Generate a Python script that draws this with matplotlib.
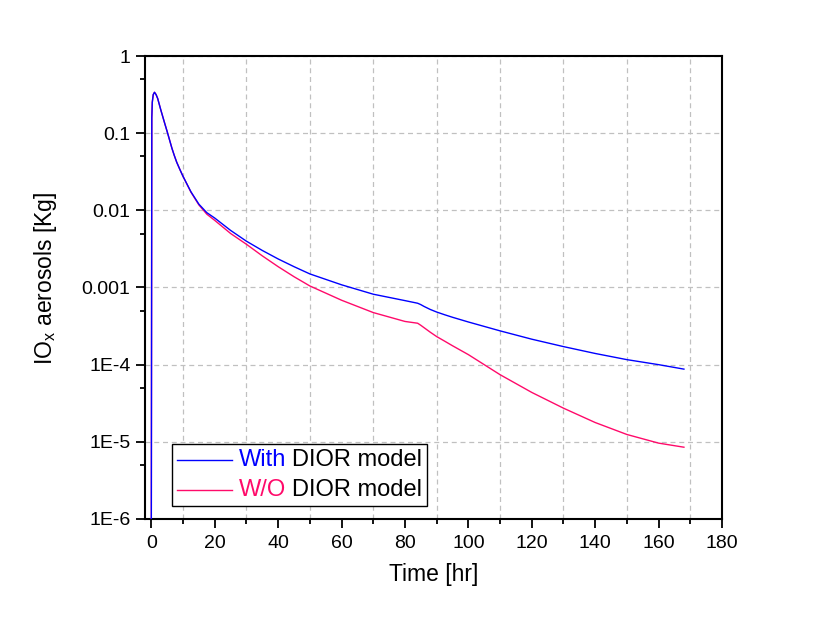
import numpy as np
import matplotlib
matplotlib.use("Agg")
import matplotlib.pyplot as plt
from matplotlib.lines import Line2D
from matplotlib.offsetbox import (AnchoredOffsetbox, DrawingArea, HPacker,
                                  TextArea, VPacker)

plt.rcParams['font.family'] = ['Liberation Sans', 'DejaVu Sans']

# ---- data ----
time_hr = [0, 0.15, 0.3, 0.6, 1.0, 1.5, 2, 3, 4.2, 5, 6.5, 7.25, 8, 9, 10, 12.5, 15,
           17.5, 20, 25, 30, 35, 40, 45, 50, 60, 70, 80, 84, 85, 86, 88, 90, 92.5,
           95, 100, 110, 120, 130, 140, 150, 160, 168]
log_with = [-6.0, -0.8, -0.6, -0.5, -0.47, -0.5, -0.55, -0.70, -0.87, -0.98, -1.196,
            -1.29, -1.376, -1.47, -1.56, -1.76, -1.92, -2.03, -2.10, -2.26, -2.40,
            -2.52, -2.63, -2.73, -2.824, -2.965, -3.087, -3.17, -3.204, -3.222,
            -3.245, -3.285, -3.318, -3.353, -3.386, -3.447, -3.562, -3.67, -3.766,
            -3.855, -3.935, -4.00, -4.058]
log_without = [-6.0, -0.8, -0.6, -0.5, -0.47, -0.5, -0.55, -0.70, -0.87, -0.98, -1.196,
               -1.29, -1.376, -1.47, -1.56, -1.765, -1.93, -2.05, -2.13, -2.30, -2.44,
               -2.59, -2.73, -2.86, -2.98, -3.165, -3.325, -3.44, -3.463, -3.49,
               -3.52, -3.58, -3.636, -3.695, -3.755, -3.87, -4.13, -4.36, -4.564,
               -4.75, -4.905, -5.017, -5.07]
with_dior = [10 ** v for v in log_with]
without_dior = [10 ** v for v in log_without]

y_ticks = [1e-6, 1e-5, 1e-4, 1e-3, 1e-2, 1e-1, 1]
y_tick_labels = ['1E-6', '1E-5', '1E-4', '0.001', '0.01', '0.1', '1']
x_ticks = [0, 20, 40, 60, 80, 100, 120, 140, 160, 180]
legend_keys = ['With', 'W/O']
legend_rest = 'DIOR model'

blue = '#0000ff'
pink = '#ff0a6a'

fig = plt.figure(figsize=(8.21, 6.19), dpi=100)
ax = fig.add_axes([0.1766, 0.1616, 0.7028, 0.7479])

ax.plot(time_hr, with_dior, color=blue, lw=1.0, zorder=4)
ax.plot(time_hr, without_dior, color=pink, lw=1.0, zorder=3)

ax.set_yscale('log')
ax.set_ylim(1e-6, 1)
ax.set_xlim(-2, 180)
ax.set_yticks(y_ticks)
ax.set_yticklabels(y_tick_labels)
ax.set_yticks([5 * t for t in y_ticks[:-1]], minor=True)
ax.yaxis.set_minor_formatter(matplotlib.ticker.NullFormatter())
ax.set_xticks(x_ticks)
ax.set_xticks([10 + 20 * i for i in range(9)], minor=True)

ax.tick_params(axis='y', which='major', direction='out', length=6.5, width=1.3,
               labelsize=14, pad=4, right=False)
ax.tick_params(axis='x', which='major', direction='out', length=6.5, width=1.3,
               labelsize=14, pad=5, top=False)
ax.tick_params(which='minor', direction='out', length=3.5, width=1.3,
               top=False, right=False)
for s in ax.spines.values():
    s.set_linewidth(1.5)

ax.grid(False)
ax.xaxis.grid(True, which='minor', color='#c0c0c0', linestyle=(0, (4, 3)), lw=0.9)
ax.yaxis.grid(True, which='major', color='#c0c0c0', linestyle=(0, (4, 3)), lw=0.9)
ax.set_axisbelow(True)

ax.set_xlabel('Time [hr]', fontsize=16.5, labelpad=8)
ax.set_ylabel('IO$_\\mathregular{x}$ aerosols [Kg]', fontsize=16.5, labelpad=16)
ax.yaxis.label.set_y(0.52)

# legend with two-coloured labels, built from offset boxes
rows = []
for key, col in zip(legend_keys, [blue, pink]):
    da = DrawingArea(40, 14, 0, 0)
    da.add_artist(Line2D([0, 40], [7, 7], color=col, lw=1.0))
    t1 = TextArea(key, textprops=dict(color=col, fontsize=17))
    t2 = TextArea(legend_rest, textprops=dict(color='black', fontsize=17))
    rows.append(HPacker(children=[da, t1, t2], align='center', pad=0, sep=4.5))
box = VPacker(children=rows, align='left', pad=0, sep=6)
anch = AnchoredOffsetbox(loc='lower left', child=box, pad=0.2, borderpad=0,
                         frameon=True, bbox_to_anchor=(0.047, 0.028),
                         bbox_transform=ax.transAxes, prop=dict(size=17))
anch.patch.set_edgecolor('black')
anch.patch.set_linewidth(1.0)
anch.patch.set_boxstyle('square', pad=0)
anch.zorder = 6
ax.add_artist(anch)

fig.savefig('out.png', dpi=100)
